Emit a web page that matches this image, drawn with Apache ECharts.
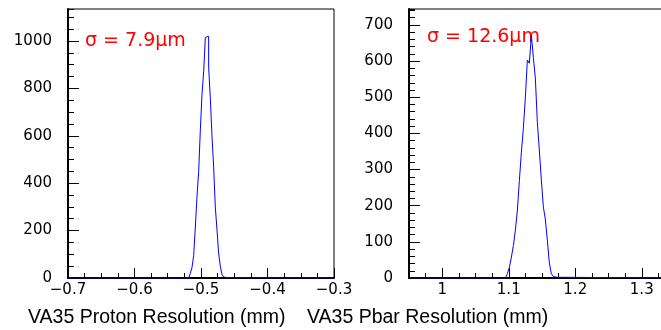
<!DOCTYPE html>
<html>
<head>
<meta charset="utf-8">
<title>VA35 resolution</title>
<script src="https://cdn.jsdelivr.net/npm/echarts@6/dist/echarts.min.js"></script>
<style>
    html, body { margin: 0; padding: 0; background: #fff; }
    #chart { width: 661px; height: 330px; }
</style>
</head>
<body>
<div id="chart"></div>
<script>
// proton histogram (mm), counts per bin from the first filled bin
var protonRange = [-0.7, -0.3];
var protonBinStart = -0.5185;
var protonBinWidth = 0.0025;
var protonCounts = [3, 20, 45, 95, 215, 345, 450, 625, 775, 870, 1015, 1020, 890, 760,
    600, 470, 300, 205, 105, 50, 15, 4, 2, 1, 1];
var protonYMax = 1135;
var protonXTicks = [-0.7, -0.6, -0.5, -0.4, -0.3];
var protonYTicks = [0, 200, 400, 600, 800, 1000];

// pbar histogram (mm)
var pbarRange = [0.95, 1.35];
var pbarBinStart = 1.095;
var pbarBinWidth = 0.003;
var pbarCounts = [4, 12, 30, 58, 90, 133, 188, 270, 348, 415, 500, 603, 594, 672,
    610, 553, 430, 354, 272, 197, 163, 105, 42, 12, 4, 2, 1];
var pbarYMax = 744;
var pbarXTicks = [1.0, 1.1, 1.2, 1.3];
var pbarYTicks = [0, 100, 200, 300, 400, 500, 600, 700];

var titles = ['VA35 Proton Resolution (mm)', 'VA35 Pbar Resolution (mm)'];
var sigmaTexts = ['σ = 7.9μm', 'σ = 12.6μm'];

var labelFont = 'DejaVu Sans';
var titleFont = 'Liberation Sans';

var chart = echarts.init(document.getElementById('chart'), null, { renderer: 'canvas' });

// histogram outline as a step line through bin edges
function histLine(start, width, counts, range) {
    var pts = [[range[0], 0]];
    for (var i = 0; i < counts.length; i++) {
        pts.push([start + i * width, counts[i]]);
    }
    pts.push([start + counts.length * width, 0]);
    pts.push([range[1], 0]);
    return pts;
}

function fmtX(v) {
    var s = String(Math.abs(Math.round(v * 1000) / 1000));
    return v < 0 ? '\u2212' + s : s;
}

function fmtY(v) {
    return String(Math.round(v));
}

function mainX(grid, range, ticks) {
    return {
        gridIndex: grid, type: 'value', position: 'bottom',
        min: range[0], max: range[1],
        axisLine: { show: true, onZero: false, lineStyle: { color: '#000', width: 2 } },
        axisTick: { show: true, inside: true, length: 10, customValues: ticks, lineStyle: { color: '#000' } },
        axisLabel: { customValues: ticks, formatter: fmtX, margin: 5, color: '#000', fontFamily: labelFont, fontSize: 15 },
        splitLine: { show: false }
    };
}

function minorX(grid, range) {
    return {
        gridIndex: grid, type: 'value', position: 'bottom',
        min: range[0], max: range[1], interval: 0.025,
        axisLine: { show: false, onZero: false },
        axisTick: { show: true, inside: true, length: 5, lineStyle: { color: '#000' } },
        axisLabel: { show: false },
        splitLine: { show: false }
    };
}

function mainY(grid, max, ticks) {
    return {
        gridIndex: grid, type: 'value', position: 'left',
        min: 0, max: max,
        axisLine: { show: true, onZero: false, lineStyle: { color: '#000', width: 2 } },
        axisTick: { show: true, inside: true, length: 11, customValues: ticks, lineStyle: { color: '#000' } },
        axisLabel: { customValues: ticks, formatter: fmtY, margin: 16, color: '#000', fontFamily: labelFont, fontSize: 15 },
        splitLine: { show: false }
    };
}

function minorY(grid, max, step) {
    return {
        gridIndex: grid, type: 'value', position: 'left',
        min: 0, max: max, interval: step,
        axisLine: { show: false, onZero: false },
        axisTick: { show: true, inside: true, length: 6, lineStyle: { color: '#000' } },
        axisLabel: { show: false },
        splitLine: { show: false }
    };
}

var gridBase = {
    top: 9, height: 269, width: 266,
    show: true, borderColor: '#000', borderWidth: 1,
    containLabel: false, outerBoundsMode: 'none'
};

var option = {
    animation: false,
    backgroundColor: '#fff',
    grid: [
        Object.assign({ left: 68 }, gridBase),
        Object.assign({ left: 409 }, gridBase)
    ],
    xAxis: [
        mainX(0, protonRange, protonXTicks),
        minorX(0, protonRange),
        mainX(1, pbarRange, pbarXTicks),
        minorX(1, pbarRange)
    ],
    yAxis: [
        mainY(0, protonYMax, protonYTicks),
        minorY(0, protonYMax, 50),
        mainY(1, pbarYMax, pbarYTicks),
        minorY(1, pbarYMax, 20)
    ],
    series: [{
        name: 'proton',
        type: 'line',
        xAxisIndex: 0,
        yAxisIndex: 0,
        step: 'end',
        showSymbol: false,
        symbol: 'none',
        lineStyle: { color: '#0000ff', width: 1 },
        data: histLine(protonBinStart, protonBinWidth, protonCounts, protonRange)
    }, {
        name: 'pbar',
        type: 'line',
        xAxisIndex: 2,
        yAxisIndex: 2,
        step: 'end',
        showSymbol: false,
        symbol: 'none',
        lineStyle: { color: '#0000ff', width: 1 },
        data: histLine(pbarBinStart, pbarBinWidth, pbarCounts, pbarRange)
    }],
    graphic: [
        { type: 'text', x: 85, y: 41, style: { text: sigmaTexts[0], fill: '#ff0000', fontFamily: labelFont, fontSize: 19, verticalAlign: 'middle' } },
        { type: 'text', x: 427, y: 37, style: { text: sigmaTexts[1], fill: '#ff0000', fontFamily: labelFont, fontSize: 19, verticalAlign: 'middle' } },
        { type: 'text', x: 28, y: 318, style: { text: titles[0], fill: '#000', fontFamily: titleFont, fontSize: 19.5, verticalAlign: 'middle' } },
        { type: 'text', x: 307, y: 318, style: { text: titles[1], fill: '#000', fontFamily: titleFont, fontSize: 19.5, verticalAlign: 'middle' } }
    ]
};

chart.setOption(option);
</script>
</body>
</html>
